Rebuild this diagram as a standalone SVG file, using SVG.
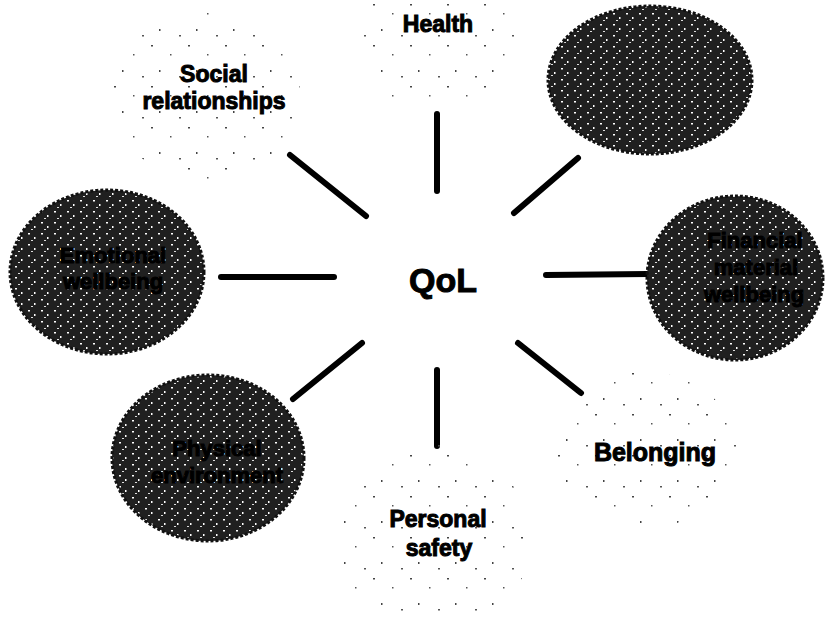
<svg xmlns="http://www.w3.org/2000/svg" width="840" height="618" viewBox="0 0 840 618">
  <defs>
    <pattern id="speck" width="37" height="41" patternUnits="userSpaceOnUse">
      <rect x="3" y="4" width="2" height="1.5" fill="#444"/>
      <rect x="22" y="13" width="1.5" height="1.5" fill="#555"/>
      <rect x="11" y="29" width="1.5" height="2" fill="#444"/>
      <rect x="31" y="35" width="2" height="1.5" fill="#555"/>
    </pattern>
    <pattern id="dark" width="13" height="11" patternUnits="userSpaceOnUse">
      <rect width="13" height="11" fill="#202020"/>
      <rect x="2" y="2" width="2" height="1.5" fill="#fff"/>
      <rect x="8" y="6" width="1.5" height="2" fill="#fff"/>
      <rect x="5" y="9" width="2" height="1" fill="#ddd"/>
    </pattern>
  </defs>
  <style>
    .faint { fill: url(#speck); stroke: none; }
    .darkc { fill: url(#dark); stroke: #111; stroke-width: 3; stroke-dasharray: 3 2; }
    .lbl { font-family: "Liberation Sans", Arial, sans-serif; font-weight: 700; font-size: 23px; fill: #000; stroke: #000; stroke-width: 1; text-anchor: middle; }
    .dlbl { font-family: "Liberation Sans", Arial, sans-serif; font-weight: 700; font-size: 22px; fill: #000; stroke: #000; stroke-width: 1; text-anchor: middle; }
    .hub { font-family: "Liberation Sans", Arial, sans-serif; font-weight: 700; font-size: 34px; fill: #000; stroke: #000; stroke-width: 1; text-anchor: middle; }
    .conn line { stroke: #000; stroke-width: 6; stroke-linecap: round; }
  </style>
  <rect width="840" height="618" fill="#fff"/>

  <g id="connectors" class="conn">
    <line x1="437" y1="114" x2="437" y2="191"/>
    <line x1="290" y1="155" x2="366" y2="216"/>
    <line x1="514" y1="213" x2="578" y2="158"/>
    <line x1="221" y1="277" x2="334" y2="277"/>
    <line x1="546" y1="275" x2="648" y2="274"/>
    <line x1="362" y1="343" x2="293" y2="399"/>
    <line x1="437" y1="370" x2="437" y2="446"/>
    <line x1="518" y1="343" x2="581" y2="393"/>
  </g>

  <g id="health">
    <circle class="faint" cx="437" cy="35" r="78"/>
    <text class="lbl" x="438" y="32">Health</text>
  </g>
  <g id="social-relationships">
    <ellipse class="faint" cx="205" cy="95" rx="95" ry="85"/>
    <text class="lbl" x="214" y="82">Social</text>
    <text class="lbl" x="214" y="109">relationships</text>
  </g>
  <g id="top-right-domain">
    <ellipse class="darkc" cx="650" cy="80" rx="102" ry="74"/>
  </g>
  <g id="emotional-wellbeing">
    <ellipse class="darkc" cx="107" cy="272" rx="97" ry="82"/>
    <text class="dlbl" x="113" y="263">Emotional</text>
    <text class="dlbl" x="113" y="289">wellbeing</text>
  </g>
  <g id="financial-wellbeing">
    <ellipse class="darkc" cx="735" cy="278" rx="88" ry="82"/>
    <text class="dlbl" x="755" y="248">Financial</text>
    <text class="dlbl" x="756" y="275">material</text>
    <text class="dlbl" x="754" y="302">wellbeing</text>
  </g>
  <g id="physical-environment">
    <ellipse class="darkc" cx="208" cy="458" rx="96" ry="83"/>
    <text class="dlbl" x="217" y="456">Physical</text>
    <text class="dlbl" x="217" y="483">environment</text>
  </g>
  <g id="personal-safety">
    <circle class="faint" cx="435" cy="540" r="95"/>
    <text class="lbl" x="438" y="527">Personal</text>
    <text class="lbl" x="439" y="556">safety</text>
  </g>
  <g id="belonging">
    <ellipse class="faint" cx="645" cy="450" rx="92" ry="78"/>
    <text class="lbl" x="655" y="461" style="font-size:25px">Belonging</text>
  </g>
  <g id="qol">
    <text class="hub" x="443" y="292">QoL</text>
  </g>
</svg>
